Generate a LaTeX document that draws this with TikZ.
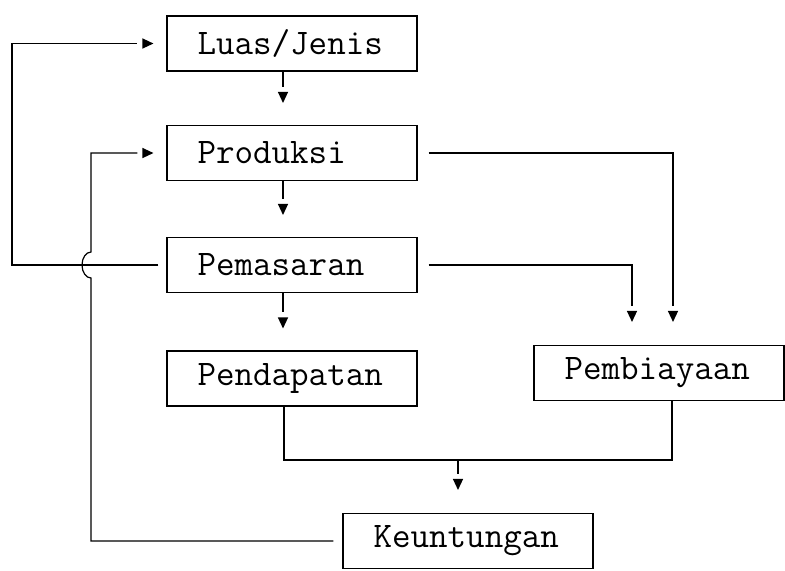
\documentclass[tikz,border=0pt]{standalone}
\usepackage{fontspec}
\usetikzlibrary{arrows.meta}

% ujung panah segitiga dengan celah kecil sebelum garis
\pgfdeclarearrow{
  name=Celah,
  setup code={
    \pgfarrowssettipend{0pt}
    \pgfarrowssetbackend{-5.5pt}
    \pgfarrowssetlineend{-8pt}
  },
  drawing code={
    \pgfpathmoveto{\pgfpointorigin}
    \pgfpathlineto{\pgfpoint{-5.5pt}{2.6pt}}
    \pgfpathlineto{\pgfpoint{-5.5pt}{-2.6pt}}
    \pgfpathclose
    \pgfusepathqfill
  }
}

\begin{document}
\begin{tikzpicture}[x=0.5pt, y=-0.5pt, line width=0.6pt,
    blok/.style={draw, text width=94.5pt, inner xsep=15.25pt, inner ysep=0pt,
      minimum height=27.5pt, align=left, font=\ttfamily\fontsize{18}{20}\selectfont},
    panah/.style={-Celah}]
  \useasboundingbox (0,0) rectangle (785,570);
  % kotak
  \node[blok] (luas) at (292,43.5) {Luas/Jenis};
  \node[blok] (produksi) at (292,153) {Produksi};
  \node[blok] (pemasaran) at (292,265) {Pemasaran};
  \node[blok] (pendapatan) at (292,378.5) {Pendapatan};
  \node[blok] (pembiayaan) at (659,373) {Pembiayaan};
  \node[blok] (keuntungan) at (468,541) {Keuntungan};
  % titik bantu
  \coordinate (kiri) at (12,265);
  \coordinate (lompat) at (91,265);
  \coordinate (gabung) at (458,460);
  % panah ke bawah
  \draw[panah, shorten >=11pt] ([xshift=-4.5pt]luas.south) -- ([xshift=-4.5pt]produksi.north);
  \draw[panah, shorten >=11pt] ([xshift=-4.5pt]produksi.south) -- ([xshift=-4.5pt]pemasaran.north);
  \draw[panah, shorten >=11pt] ([xshift=-4.5pt]pemasaran.south) -- ([xshift=-4.5pt]pendapatan.north);
  % umpan balik
  \draw[panah, shorten <=4pt, shorten >=6.5pt] (pemasaran.west) -- (kiri) |- (luas.west);
  \draw[panah, shorten <=4.5pt, shorten >=6.5pt] (keuntungan.west) -| ([yshift=-6.5pt]lompat)
    arc[start angle=270, end angle=90, x radius=4.5pt, y radius=6.5pt] |- (produksi.west);
  % ke pembiayaan
  \draw[panah, shorten <=5.5pt, shorten >=11.5pt] (produksi.east) -| ([xshift=7pt]pembiayaan.north);
  \draw[panah, shorten <=5.5pt, shorten >=11.5pt] (pemasaran.east) -| ([xshift=-13.5pt]pembiayaan.north);
  % ke keuntungan
  \draw ([xshift=-4pt]pendapatan.south) |- (gabung) -| ([xshift=6.5pt]pembiayaan.south);
  \draw[panah, shorten >=11.5pt] (gabung) -- (gabung |- keuntungan.north);
\end{tikzpicture}
\end{document}
